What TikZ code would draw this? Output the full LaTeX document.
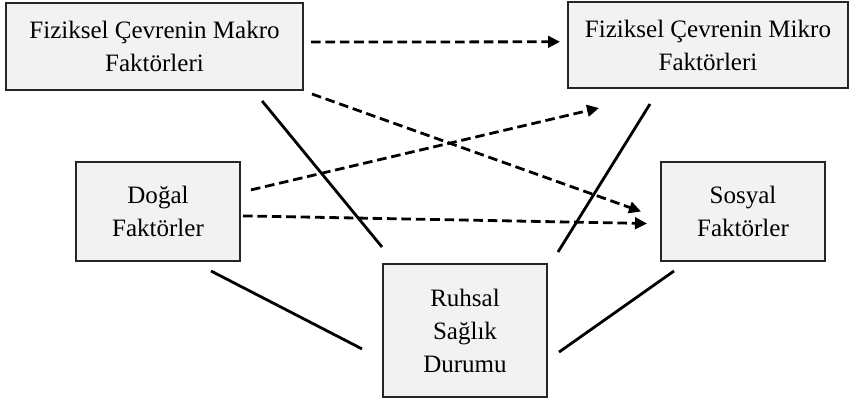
\documentclass[tikz,border=0pt]{standalone}
\usepackage{fontspec}
\setmainfont{Liberation Serif}
\usepackage{tikz}
\usetikzlibrary{arrows.meta,positioning,calc}
\definecolor{boxgray}{HTML}{F2F2F2}
\tikzset{factor/.style={draw=black!85,fill=boxgray,line width=1pt,align=center,inner sep=0pt,outer sep=0pt,font=\fontsize{17.8}{23.5}\selectfont}}

\begin{document}
\begin{tikzpicture}[-, >={Triangle[length=0.3cm,width=0.29cm]}, semithick]
\tikzstyle{link}=[line width=0.07cm]
\tikzstyle{effect}=[line width=0.07cm,dash pattern=on 0.24cm off 0.12cm,->]
    \useasboundingbox (0,0) rectangle (21.225,10.05);
    \node[factor,minimum width=7.425cm,minimum height=2.175cm] (makro) at (3.8625,8.8875) {Fiziksel Çevrenin Makro\\Faktörleri};
    \node[factor,minimum width=7cm,minimum height=2.15cm] (mikro) at (17.7,8.925) {Fiziksel Çevrenin Mikro\\Faktörleri};
    \node[factor,minimum width=4.1cm,minimum height=2.475cm] (dogal) at (3.95,4.7625) {Doğal\\Faktörler};
    \node[factor,minimum width=4.1cm,minimum height=2.475cm] (sosyal) at (18.575,4.7625) {Sosyal\\Faktörler};
    \node[factor,minimum width=4.1cm,minimum height=3.325cm] (ruhsal) at (11.625,1.7875) {Ruhsal\\Sağlık\\Durumu};

    % dashed effects
    \draw[effect] ([xshift=0.2cm,yshift=0.11cm]makro.east) -- ([xshift=-0.2cm,yshift=0.08cm]mikro.west);
    \draw[effect] ([xshift=0.225cm,yshift=-0.1cm]makro.south east) -- ([xshift=-0.5cm]sosyal.west);
    \draw[effect] ([xshift=0.275cm,yshift=0.54cm]dogal.east) -- ([xshift=0.775cm,yshift=-0.5cm]mikro.south west);
    \draw[effect] ([xshift=0.075cm,yshift=-0.11cm]dogal.east) -- ([xshift=-0.35cm,yshift=-0.3cm]sosyal.west);

    % solid links
    \draw[link] ([xshift=2.69cm,yshift=-0.275cm]makro.south) -- ([xshift=-0.025cm,yshift=0.425cm]ruhsal.north west);
    \draw[link] ([xshift=-1.45cm,yshift=-0.4cm]mikro.south) -- ([xshift=0.275cm,yshift=0.3cm]ruhsal.north east);
    \draw[link] ([xshift=1.325cm,yshift=-0.25cm]dogal.south) -- ([xshift=-0.525cm,yshift=-0.46cm]ruhsal.west);
    \draw[link] ([xshift=0.325cm,yshift=-0.25cm]sosyal.south west) -- ([xshift=0.3cm,yshift=-0.54cm]ruhsal.east);
\end{tikzpicture}
\end{document}
